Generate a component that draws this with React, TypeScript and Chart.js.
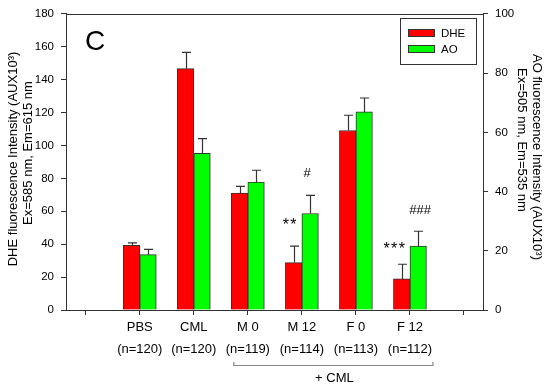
import React, { useEffect, useRef } from "react";
import { Chart, registerables } from "chart.js";

Chart.register(...registerables);

// ---------- data ----------
const categories = ["", "PBS", "CML", "M 0", "M 12", "F 0", "F 12", ""];
const sampleSizes = ["", "(n=120)", "(n=120)", "(n=119)", "(n=114)", "(n=113)", "(n=112)", ""];
const xTickPositions = [0, 1, 2, 3, 4, 5, 6, 7];
const groupPositions = [1, 2, 3, 4, 5, 6];
const seriesLabels = ["DHE", "AO"];
const dheValues = [39.3, 146.7, 71.1, 28.8, 109.1, 18.9];
const dheErrors = [1.5, 9.9, 4.0, 10.0, 9.3, 8.9];
const aoValues = [18.7, 52.9, 43.2, 32.6, 66.9, 21.6];
const aoErrors = [1.8, 5.0, 4.0, 6.1, 4.7, 5.0];
const leftTicks = [0, 20, 40, 60, 80, 100, 120, 140, 160, 180];
const rightTicks = [0, 20, 40, 60, 80, 100];
const sigTexts = ["**", "#", "***", "###"];
const sigGroups = [4, 4, 6, 6];
const sigSeries = [0, 1, 0, 1];
const panelLetter = "C";
const leftTitle = ["DHE fluorescence Intensity (AUX10\u00B3)", "Ex=585 nm, Em=615 nm"];
const rightTitle = ["AO fluorescence Intensity (AUX10\u00B3)", "Ex=505 nm, Em=535 nm"];
const bracketLabel = "+ CML";
const bracketGroups = [3, 6];

// ---------- style ----------
const FONT = "'Liberation Sans', Arial, sans-serif";
const LINE = "#333333";
const RED = "#ff0000";
const GREEN = "#00ff00";
const sigOffsets = [
  { dx: -4, dy: -25 },
  { dx: -3, dy: -22 },
  { dx: -7.5, dy: -19 },
  { dx: 2, dy: -21 },
];

const extrasPlugin = {
  id: "extras",
  afterDraw(chart: any) {
    const ctx = chart.ctx as CanvasRenderingContext2D;
    const area = chart.chartArea;
    const yL = chart.scales.yLeft;
    const yR = chart.scales.yRight;
    const xS = chart.scales.x;
    ctx.save();

    // frame top line
    ctx.strokeStyle = LINE;
    ctx.lineWidth = 1;
    ctx.beginPath();
    ctx.moveTo(Math.round(area.left) + 0.5, Math.round(area.top) + 0.5);
    ctx.lineTo(Math.round(area.right) + 0.5, Math.round(area.top) + 0.5);
    ctx.stroke();

    // error bars
    const errs = [dheErrors, aoErrors];
    const vals = [dheValues, aoValues];
    const scales = [yL, yR];
    const tops: number[][] = [[], []];
    for (let d = 0; d < 2; d++) {
      const meta = chart.getDatasetMeta(d);
      meta.data.forEach((el: any, i: number) => {
        const top = scales[d].getPixelForValue(vals[d][i] + errs[d][i]);
        tops[d][i] = top;
        const x = Math.round(el.x) + 0.5;
        ctx.strokeStyle = LINE;
        ctx.lineWidth = 1.2;
        ctx.beginPath();
        ctx.moveTo(x, el.y);
        ctx.lineTo(x, top);
        ctx.moveTo(x - 4.5, top);
        ctx.lineTo(x + 4.5, top);
        ctx.stroke();
      });
    }

    // significance markers
    ctx.fillStyle = "#000";
    ctx.textAlign = "center";
    ctx.textBaseline = "middle";
    sigTexts.forEach((t, k) => {
      const d = sigSeries[k];
      const idx = groupPositions.indexOf(sigGroups[k]);
      const el = chart.getDatasetMeta(d).data[idx];
      const x = el.x + sigOffsets[k].dx;
      const y = tops[d][idx] + sigOffsets[k].dy;
      if (t.startsWith("*")) {
        ctx.font = `16px ${FONT}`;
        ctx.fillText(t.split("").join("\u200A"), x, y + 4);
      } else {
        ctx.font = `13px ${FONT}`;
        ctx.fillText(t, x, y);
      }
    });

    // panel letter
    ctx.textAlign = "left";
    ctx.textBaseline = "alphabetic";
    ctx.font = `28px ${FONT}`;
    ctx.fillText(panelLetter, area.left + 19, area.top + 36);

    // legend
    const lx = 400, ly = 18, lw = 76, lh = 46;
    ctx.strokeStyle = LINE;
    ctx.lineWidth = 1;
    ctx.strokeRect(lx + 0.5, ly + 0.5, lw, lh);
    const swatchColors = [RED, GREEN];
    ctx.font = `11.5px ${FONT}`;
    ctx.textBaseline = "middle";
    seriesLabels.forEach((lab, i) => {
      const sy = ly + 11 + i * 16;
      ctx.fillStyle = swatchColors[i];
      ctx.fillRect(lx + 8, sy, 27, 8);
      ctx.strokeStyle = LINE;
      ctx.strokeRect(lx + 8.5, sy + 0.5, 26, 7);
      ctx.fillStyle = "#000";
      ctx.fillText(lab, lx + 41, sy + 4.5);
    });

    // axis titles
    ctx.font = `13px ${FONT}`;
    ctx.fillStyle = "#000";
    ctx.textAlign = "center";
    const leftPos = [
      { x: 13.5, y: 159 },
      { x: 28, y: 153 },
    ];
    leftTitle.forEach((t, i) => {
      ctx.save();
      ctx.translate(leftPos[i].x, leftPos[i].y);
      ctx.rotate(-Math.PI / 2);
      ctx.fillText(t, 0, 0);
      ctx.restore();
    });
    const rightPos = [
      { x: 537, y: 157 },
      { x: 522, y: 140 },
    ];
    rightTitle.forEach((t, i) => {
      ctx.save();
      ctx.translate(rightPos[i].x, rightPos[i].y);
      ctx.rotate(Math.PI / 2);
      ctx.fillText(t, 0, 0);
      ctx.restore();
    });

    // bracket under groups
    const bx1 = xS.getPixelForValue(bracketGroups[0]) - 14;
    const bx2 = xS.getPixelForValue(bracketGroups[1]) + 23;
    const by = 365.5;
    ctx.strokeStyle = "#888";
    ctx.lineWidth = 1.2;
    ctx.beginPath();
    ctx.moveTo(bx1, by - 3.5);
    ctx.lineTo(bx1, by);
    ctx.lineTo(bx2, by);
    ctx.lineTo(bx2, by - 3.5);
    ctx.stroke();
    ctx.fillStyle = "#000";
    ctx.font = `13px ${FONT}`;
    ctx.textBaseline = "middle";
    ctx.fillText(bracketLabel, (bx1 + bx2) / 2 + 1, 378);

    ctx.restore();
  },
};

export default function App() {
  const ref = useRef<HTMLCanvasElement | null>(null);

  useEffect(() => {
    if (!ref.current) return;
    const chart = new Chart(ref.current, {
      type: "bar",
      data: {
        datasets: [
          {
            label: seriesLabels[0],
            data: groupPositions.map((x, i) => ({ x, y: dheValues[i] })),
            backgroundColor: RED,
            borderColor: LINE,
            borderWidth: 1,
            yAxisID: "yLeft",
            barThickness: 16.5,
          },
          {
            label: seriesLabels[1],
            data: groupPositions.map((x, i) => ({ x, y: aoValues[i] })),
            backgroundColor: GREEN,
            borderColor: LINE,
            borderWidth: 1,
            yAxisID: "yRight",
            barThickness: 16.5,
          },
        ],
      },
      options: {
        responsive: false,
        animation: false,
        devicePixelRatio: 1,
        layout: { padding: { top: 11, left: 0, right: 0, bottom: 0 } },
        plugins: {
          legend: { display: false },
          tooltip: { enabled: false },
        },
        scales: {
          x: {
            type: "linear",
            offset: false,
            min: -0.365,
            max: 7.352,
            afterBuildTicks: (scale: any) => {
              scale.ticks = xTickPositions.map((v) => ({ value: v }));
            },
            afterFit: (scale: any) => {
              scale.height = 77;
            },
            grid: {
              offset: false,
              drawOnChartArea: false,
              drawTicks: true,
              tickLength: 5,
              color: LINE,
            },
            border: { display: true, color: LINE, width: 1 },
            ticks: {
              autoSkip: false,
              maxRotation: 0,
              padding: 1,
              color: "#000",
              font: { family: FONT, size: 13, lineHeight: 1.72 },
              callback: (v: any) => {
                const i = Math.round(Number(v));
                if (!categories[i]) return "";
                return [categories[i], sampleSizes[i]];
              },
            },
          },
          yLeft: {
            type: "linear",
            position: "left",
            min: 0,
            max: 180,
            afterBuildTicks: (scale: any) => {
              scale.ticks = leftTicks.map((v) => ({ value: v }));
            },
            afterFit: (scale: any) => {
              scale.width = 66;
            },
            grid: {
              drawOnChartArea: false,
              tickLength: 5,
              color: LINE,
            },
            border: { display: true, color: LINE, width: 1 },
            ticks: {
              padding: 7,
              color: "#000",
              font: { family: FONT, size: 11.5 },
            },
          },
          yRight: {
            type: "linear",
            position: "right",
            min: 0,
            max: 100,
            afterBuildTicks: (scale: any) => {
              scale.ticks = rightTicks.map((v) => ({ value: v }));
            },
            afterFit: (scale: any) => {
              scale.width = 67;
            },
            grid: {
              drawOnChartArea: false,
              tickLength: 5,
              color: LINE,
            },
            border: { display: true, color: LINE, width: 1 },
            ticks: {
              padding: 7,
              color: "#000",
              font: { family: FONT, size: 11.5 },
            },
          },
        },
      },
      plugins: [extrasPlugin],
    } as any);
    return () => chart.destroy();
  }, []);

  return (
    <div style={{ position: "absolute", left: 0, top: 0, width: 550, height: 387, background: "#fff" }}>
      <canvas ref={ref} width={550} height={387} style={{ width: 550, height: 387, display: "block" }} />
    </div>
  );
}
